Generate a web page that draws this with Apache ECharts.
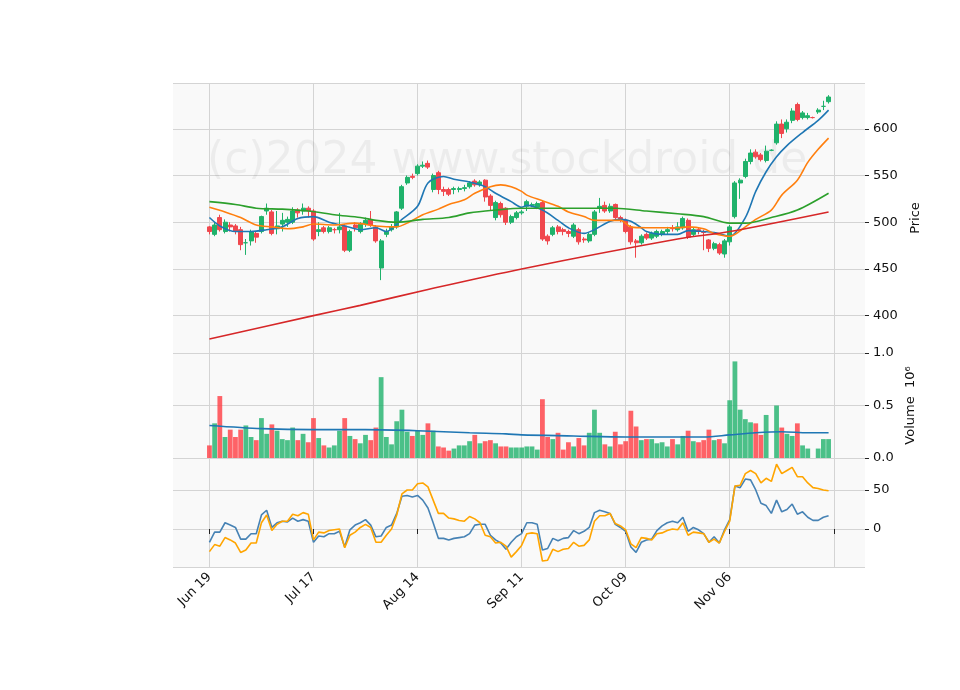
<!DOCTYPE html>
<html>
<head>
<meta charset="utf-8">
<script src="https://cdn.jsdelivr.net/npm/echarts@6/dist/echarts.min.js"></script>
<style>html,body{margin:0;padding:0;background:#fff}#chart{width:960px;height:690px}</style>
</head>
<body>
<div id="chart"></div>
<script>
// bar index -> date label (ticks every 20 sessions)
var tickLabels = {0: 'Jun 19', 20: 'Jul 17', 40: 'Aug 14', 60: 'Sep 11', 80: 'Oct 09', 100: 'Nov 06', 120: ''};

// [open, close, low, high]
var ohlc = [
  [495,490,487,496],[487,497,485,500],[505,492,490,508],[490,500,488,503],[497,495,490,500],
  [496,490,487,498],[492,476,470,495],[478,478,465,482],[480,490,475,492],[488,484,478,490],
  [490,506,488,507],[512,515,508,520],[511,488,486,513],[493,496,487,512],[498,502,490,510],
  [500,503,495,506],[500,512,498,516],[513,510,505,515],[512,515,508,520],[515,512,505,517],
  [512,482,480,514],[490,492,485,500],[494,490,488,496],[490,494,488,496],[492,492,488,494],
  [492,495,488,510],[496,470,468,498],[470,490,468,492],[497,494,490,500],[490,498,488,500],
  [498,502,495,505],[503,497,495,512],[495,480,478,497],[451,480,438,482],[487,490,484,493],
  [492,495,490,498],[495,511,493,512],[515,538,513,540],[542,548,540,550],[549,548,546,552],
  [552,560,550,562],[560,561,558,565],[563,559,557,566],[535,550,532,552],[553,535,530,555],
  [535,533,528,538],[535,530,528,537],[535,536,530,538],[535,536,532,538],[536,537,533,540],
  [538,542,536,544],[544,540,538,546],[540,543,538,545],[545,527,522,546],[528,518,512,530],
  [505,521,502,523],[520,508,505,522],[515,500,497,516],[500,506,498,508],[505,510,503,512],
  [510,511,508,513],[517,522,512,524],[518,519,516,521],[516,520,514,522],[521,482,480,523],
  [485,480,476,487],[487,494,485,496],[495,490,487,497],[492,490,486,494],[490,488,484,492],
  [485,497,483,499],[492,479,476,494],[482,481,478,484],[480,487,478,489],[487,511,485,513],
  [515,517,510,526],[518,512,510,522],[512,517,510,520],[519,505,502,520],[505,503,500,507],
  [502,490,488,504],[495,479,476,497],[480,478,462,482],[478,485,476,487],[487,483,481,489],
  [483,488,481,490],[485,490,483,492],[487,490,485,492],[490,492,487,495],[494,493,490,497],
  [492,495,490,500],[494,504,492,506],[502,484,482,504],[487,492,485,494],[492,490,487,494],
  [490,489,470,492],[481,472,468,482],[472,477,470,479],[476,467,465,478],[466,480,462,482],
  [479,495,475,497],[506,542,504,544],[542,545,525,547],[549,565,547,568],[565,574,562,578],
  [575,570,568,578],[572,567,565,574],[566,576,564,582],[577,577,576,578],[585,605,583,608],
  [605,595,590,610],[600,607,596,610],[609,619,606,622],[626,610,608,628],[612,617,610,619],
  [612,614,610,617],[612,612,611,613],[618,620,616,622],[624,624,620,630],[629,634,627,636]
];

// volume in millions
var volume = [
  0.12,0.33,0.59,0.20,0.27,0.20,0.27,0.31,0.20,0.17,
  0.38,0.23,0.32,0.26,0.18,0.17,0.29,0.17,0.23,0.15,
  0.38,0.19,0.12,0.10,0.12,0.26,0.38,0.21,0.18,0.14,
  0.22,0.17,0.29,0.77,0.20,0.13,0.35,0.46,0.25,0.21,
  0.26,0.22,0.33,0.26,0.11,0.10,0.07,0.09,0.12,0.12,
  0.16,0.22,0.14,0.16,0.17,0.14,0.11,0.11,0.10,0.10,
  0.10,0.11,0.11,0.08,0.56,0.20,0.18,0.24,0.08,0.15,
  0.11,0.19,0.12,0.24,0.46,0.24,0.13,0.11,0.25,0.13,
  0.16,0.45,0.30,0.17,0.18,0.18,0.14,0.15,0.11,0.18,
  0.13,0.21,0.26,0.16,0.15,0.17,0.27,0.17,0.18,0.14,
  0.55,0.92,0.46,0.37,0.34,0.33,0.22,0.41,0,0.50,
  0.29,0.23,0.21,0.33,0.12,0.09,0,0.09,0.18,0.18
];

// moving averages: [bar index, value]
var maBlue = [[0,505],[2.1,496],[5,490],[7.9,490],[10.8,492],[13.7,495],[16.5,504],[20,506],[23.3,500],[26.2,496],
  [29,492],[31.9,494],[34.4,490],[37.1,503],[39.6,517],[42.1,542],[44.8,549],[47.3,546],[49.8,543],[52.5,538],
  [55,531],[57.5,522],[59.8,516],[61.3,518],[64,513],[66.5,502],[69,494],[71.7,488],[74.2,492],[76.7,501],
  [79.4,503],[81,501],[82.5,494],[84.4,490],[87.1,487],[89.6,487],[92.1,491],[94.8,490],[97.3,489],[99.8,485],
  [102.5,505],[105,533],[106.9,554],[108.8,570],[111.3,582],[114,596],[116.5,609],[119,620]];
var maOrange = [[0,516],[3.3,511],[6,505],[8.9,497],[11.7,495],[14.6,493],[17.5,495],[20,498],[23.8,497],[27.7,499],
  [31.9,496],[35.6,495],[38.3,499],[41,508],[43.5,514],[46,519],[48.7,524],[51.2,531],[53.7,538],[55.6,540],
  [57.5,538],[59.8,533],[61.3,529],[64,523],[66.5,517],[69,511],[71.7,506],[73.6,502],[76.2,502],[78.7,502],
  [81.3,495],[83.8,494],[87.1,494],[90.2,494],[92.1,495],[94.8,493],[97.3,488],[99.8,485],[102.5,495],[105,503],
  [107.5,513],[110.2,529],[112.7,545],[115.2,564],[117.1,578],[119,590]];
var maGreen = [[0,522],[4.6,519],[8.5,515],[14.2,514],[18.8,512],[23.8,508],[29,505],[31.9,502],[35.8,500],[41,503],
  [46,505],[49.8,510],[55,513],[59.8,515],[65.2,515],[71.7,515],[78.1,515],[84.4,512],[90.2,509],[94.8,506],
  [99.8,499],[102.5,499],[107.5,505],[112.7,513],[119,531]];
var maRed = [[0,375],[20,400],[29,411],[41.9,428],[59.8,450],[90.2,482],[99.8,490],[119,511]];
var volMa = [[0,0.31],[10,0.28],[20,0.27],[30,0.27],[40,0.26],[50,0.24],[57,0.23],[60,0.22],[70,0.21],
  [80,0.20],[90,0.20],[95,0.20],[100,0.22],[105,0.24],[110,0.25],[115,0.24],[119,0.24]];

// oscillator panel
var oscBlue = [
  -17,-4,-4,8,5,2,-13,-13,-6,-6, 18,24,2,8,10,9,14,10,12,10,
  -17,-9,-10,-6,-6,-3,-23,-1,5,8, 12,5,-10,-9,2,5,20,42,43,41,
  43,37,27,8,-12,-12,-14,-12,-11,-10, -6,5,6,6,-8,-14,-18,-26,-17,-10,
  -6,8,8,6,-27,-25,-12,-15,-12,-11, -2,-6,-3,2,21,24,22,20,6,2,
  -3,-23,-30,-17,-14,-13,-2,4,8,10, 8,15,-3,2,-1,-6,-17,-10,-18,-1,
  12,55,53,64,63,50,33,30,20,37, 22,25,32,19,22,15,11,11,15,17
];
var oscOrange = [
  -29,-20,-22,-11,-14,-18,-30,-27,-18,-18, 8,18,-2,6,10,10,19,17,21,19,
  -14,-4,-5,-2,-1,0,-24,-8,-4,2, 6,2,-17,-17,-8,0,18,45,50,50,
  58,59,54,37,20,20,14,13,11,10, 16,13,8,-8,-10,-18,-17,-22,-36,-29,
  -21,-6,-5,-6,-41,-40,-26,-29,-26,-25, -17,-22,-21,-14,10,17,17,20,7,4,
  -1,-19,-24,-11,-12,-14,-6,-5,-2,0, -1,8,-8,-4,-5,-6,-17,-13,-18,-3,
  10,55,56,71,75,71,59,65,61,83, 71,75,79,67,67,59,53,52,50,49
];

var PAD_L = -7, PAD_R = 126;
var cats = [];
for (var i = PAD_L; i <= PAD_R; i++) cats.push(String(i));
function at(arr, f) {
  return cats.map(function (c) { var k = +c; return (k >= 0 && k < arr.length) ? f(arr[k], k) : '-'; });
}
function shift(pts) { return pts.map(function (p) { return [p[0] - PAD_L, p[1]]; }); }
function isTick(idx, val) { var k = +val; return k >= 0 && k <= 120 && k % 20 === 0; }

var UP = '#1fb26b', DOWN = '#f0474d';
var font = 'DejaVu Sans';

var dom = document.getElementById('chart');
var myChart = echarts.init(dom);

function xAx(gi, labels) {
  return {
    type: 'category', gridIndex: gi, data: cats, boundaryGap: false,
    axisLine: {show: false},
    axisTick: {show: labels, interval: isTick, length: 5, lineStyle: {color: '#222'}},
    axisLabel: {show: labels, interval: isTick, rotate: 45, margin: 8, fontFamily: font, fontSize: 13, color: '#111',
      formatter: function (v) { return tickLabels[+v] || ''; }},
    splitLine: {show: true, interval: isTick, lineStyle: {color: '#d4d4d4', width: 1}}
  };
}
function yAx(gi, opts) {
  var base = {
    type: 'value', gridIndex: gi, position: 'right', scale: true,
    axisLine: {show: false},
    axisTick: {show: true, length: 4, lineStyle: {color: '#222'}},
    axisLabel: {fontFamily: font, fontSize: 13, color: '#111', showMinLabel: false, showMaxLabel: false},
    splitLine: {lineStyle: {color: '#d4d4d4', width: 1}},
    nameLocation: 'middle', nameRotate: 90, nameTextStyle: {fontFamily: font, fontSize: 13, color: '#111'}
  };
  for (var k in opts) base[k] = opts[k];
  return base;
}

var option = {
  animation: false,
  backgroundColor: '#fff',
  grid: [
    {left: 173, right: 95, top: 83, height: 270, show: true, backgroundColor: '#f9f9f9', borderWidth: 0},
    {left: 173, right: 95, top: 353, height: 105, show: true, backgroundColor: '#f9f9f9', borderWidth: 0},
    {left: 173, right: 95, top: 458, height: 109, show: true, backgroundColor: '#f9f9f9', borderWidth: 0}
  ],
  graphic: [{
    type: 'text', left: 207, top: 140, z: 1, silent: true,
    style: {text: '(c)2024 www.stockdroid.de', font: '44px "DejaVu Sans"', fill: 'rgba(0,0,0,0.05)'}
  }],
  xAxis: [xAx(0, false), xAx(1, false), xAx(2, true)],
  yAxis: [
    yAx(0, {min: 360, max: 649, splitNumber: 5, name: 'Price', nameGap: 38}),
    yAx(1, {min: 0, max: 1, interval: 0.5, name: 'Volume  10\u2076', nameGap: 38,
      axisLabel: {fontFamily: font, fontSize: 13, color: '#111', formatter: function (v) { return v.toFixed(1); }}}),
    yAx(2, {min: -48.7, max: 91, splitNumber: 3})
  ],
  series: [
    {
      type: 'candlestick', xAxisIndex: 0, yAxisIndex: 0, barWidth: 4.5,
      itemStyle: {color: UP, color0: DOWN, borderColor: UP, borderColor0: DOWN, borderWidth: 1},
      data: at(ohlc, function (r) { return r; }), z: 3
    },
    {type: 'line', xAxisIndex: 0, yAxisIndex: 0, data: shift(maBlue), showSymbol: false, smooth: 0.3,
      lineStyle: {color: '#1f77b4', width: 1.6}, z: 4},
    {type: 'line', xAxisIndex: 0, yAxisIndex: 0, data: shift(maOrange), showSymbol: false, smooth: 0.3,
      lineStyle: {color: '#ff7f0e', width: 1.6}, z: 4},
    {type: 'line', xAxisIndex: 0, yAxisIndex: 0, data: shift(maGreen), showSymbol: false, smooth: 0.3,
      lineStyle: {color: '#2ca02c', width: 1.6}, z: 4},
    {type: 'line', xAxisIndex: 0, yAxisIndex: 0, data: shift(maRed), showSymbol: false, smooth: 0.3,
      lineStyle: {color: '#d62728', width: 1.6}, z: 4},
    {
      type: 'bar', xAxisIndex: 1, yAxisIndex: 1, barWidth: '92%',
      data: at(volume, function (v, k) {
        var up = ohlc[k][1] >= ohlc[k][0];
        return {value: v, itemStyle: {color: up ? 'rgba(31,178,107,0.8)' : 'rgba(255,60,66,0.8)'}};
      })
    },
    {type: 'line', xAxisIndex: 1, yAxisIndex: 1, data: shift(volMa), showSymbol: false, smooth: 0.3,
      lineStyle: {color: '#1f77b4', width: 1.6}, z: 4},
    {type: 'line', xAxisIndex: 2, yAxisIndex: 2, data: at(oscBlue, function (v) { return v; }), showSymbol: false,
      lineStyle: {color: '#4682b4', width: 1.6}},
    {type: 'line', xAxisIndex: 2, yAxisIndex: 2, data: at(oscOrange, function (v) { return v; }), showSymbol: false,
      lineStyle: {color: '#ffa500', width: 1.6}}
  ]
};
myChart.setOption(option, true);

window.onresize = function () {
  myChart.resize();
};
</script>
</body>
</html>
